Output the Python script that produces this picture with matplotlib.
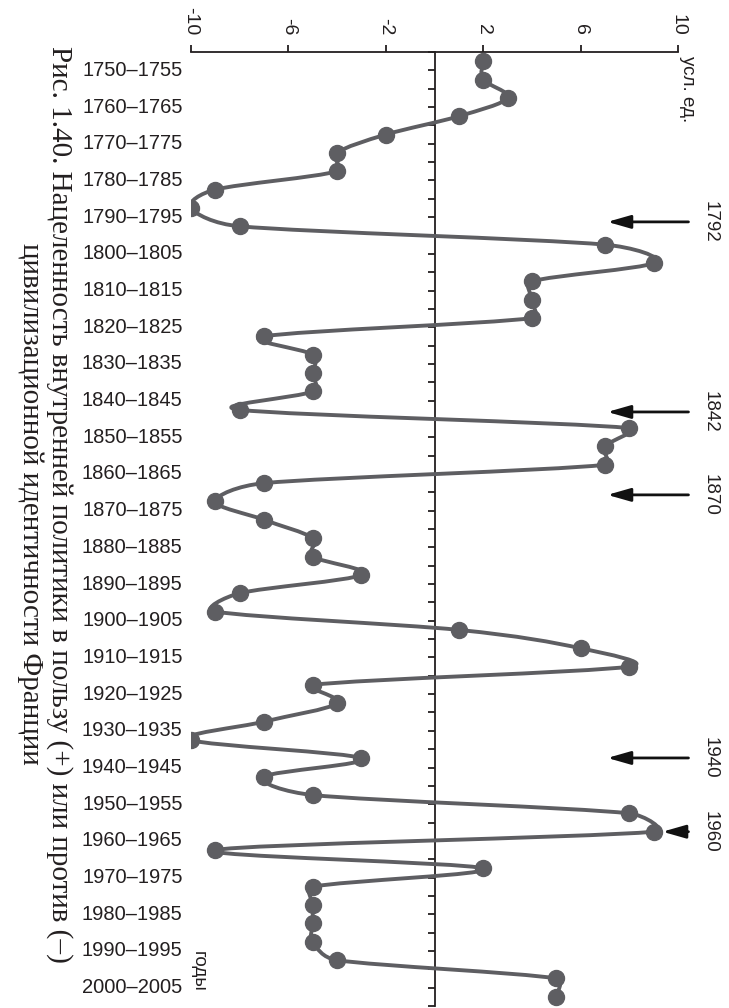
import numpy as np
import matplotlib
matplotlib.use('Agg')
import matplotlib.pyplot as plt
from matplotlib.path import Path
from matplotlib.patches import PathPatch
import matplotlib.transforms as mtransforms

# Data: score per 5-year step, 1750..2005
years = list(range(1750, 2006, 5))
scores = [2, 2, 3, 1, -2, -4, -4, -9, -10, -8,
          7, 9, 4, 4, 4, -7, -5, -5, -5, -8,
          8, 7, 7, -7, -9, -7, -5, -5, -3, -8,
          -9, 1, 6, 8, -5, -4, -7, -10, -3, -7,
          -5, 8, 9, -9, 2, -5, -5, -5, -5, -4,
          5, 5]
period_labels = [f"{y}\u2013{y + 5}" for y in range(1750, 2001, 10)]
value_ticks = [-10, -6, -2, 2, 6, 10]

# arrows marking turning points
mark_labels = ['1792', '1842', '1870', '1940', '1960']
mark_years = [1793.8, 1845.6, 1868.2, 1939.9, 1960.0]
mark_heads = [7.1, 7.1, 7.1, 7.1, 9.36]

line_col = '#5e5e62'
txt_col = '#231f20'
plt.rcParams['font.family'] = ['Liberation Sans', 'DejaVu Sans']

fig = plt.figure(figsize=(7.29, 10.08), dpi=100)
ax = fig.add_axes([191/729, 1 - 1006/1008, 487/729, (1006 - 52)/1008])
ax.set_xlim(-10, 10)
ax.set_ylim(2007.5, 1747.5)


def smooth_path(xs, ys):
    # excel-like smoothing: bezier with 1/6 tangents, clamped to half segment
    d = ax.transData.transform(np.column_stack([xs, ys]))
    P = np.vstack([d[0], d, d[-1]])
    verts = [d[0]]
    codes = [Path.MOVETO]
    for i in range(len(d) - 1):
        p0, p1, p2, p3 = P[i], P[i + 1], P[i + 2], P[i + 3]
        seg = np.hypot(*(p2 - p1))
        t1 = (p2 - p0) / 6
        t2 = (p3 - p1) / 6
        n1, n2 = np.hypot(*t1), np.hypot(*t2)
        if n1 > seg / 2:
            t1 = t1 * (seg / 2) / n1
        if n2 > seg / 2:
            t2 = t2 * (seg / 2) / n2
        verts += [p1 + t1, p2 - t2, p2]
        codes += [Path.CURVE4] * 3
    verts = ax.transData.inverted().transform(np.array(verts))
    return Path(verts, codes)


ax.add_patch(PathPatch(smooth_path(scores, years), fill=False, ec=line_col, lw=2.8,
                       capstyle='round', joinstyle='round', zorder=3))
ax.plot(scores, years, 'o', color=line_col, ms=11.5, zorder=4)

# axes styling
for s in ['bottom', 'right']:
    ax.spines[s].set_visible(False)
ax.spines['left'].set_position(('data', 0))
for s in ['top', 'left']:
    ax.spines[s].set_color(txt_col)
    ax.spines[s].set_linewidth(1.3)
ax.xaxis.tick_top()
ax.set_xticks(value_ticks)
ax.set_xticklabels([str(v) for v in value_ticks])
ax.tick_params(axis='x', direction='out', length=5, width=1.3, color=txt_col,
               labelrotation=-90, labelsize=14, labelcolor=txt_col, pad=7)
ax.set_yticks(np.arange(1747.5, 2008, 5))
ax.set_yticklabels([])
ax.tick_params(axis='y', direction='out', length=5, width=1.3, color=txt_col)

tr = mtransforms.blended_transform_factory(ax.transAxes, ax.transData)
for i, lab in enumerate(period_labels):
    ax.text(-0.017, 1752.5 + 10 * i, lab, transform=tr, ha='right', va='center',
            fontsize=14.5, color=txt_col)

ax.text(1.003, 1748.5, 'усл. ед.', transform=tr, rotation=-90, ha='left', va='top',
        fontsize=13.5, color=txt_col)
ax.text(-0.002, 2003.5, 'годы', transform=tr, rotation=-90, ha='left', va='bottom',
        fontsize=13.5, color=txt_col)

for lab, yy, hx in zip(mark_labels, mark_years, mark_heads):
    ax.annotate('', xy=(hx, yy), xytext=(10.43, yy),
                arrowprops=dict(arrowstyle='-|>,head_length=0.7,head_width=0.2',
                                color='#111111', lw=2, mutation_scale=20,
                                shrinkA=0, shrinkB=0),
                annotation_clip=False)
    ax.text(11.3, yy, lab, rotation=-90, ha='center', va='center',
            fontsize=13.5, color=txt_col, clip_on=False)

fig.text(45/729, 0.5,
         'Рис. 1.40. Нацеленность внутренней политики в пользу (+) или против (\u2013)\n'
         'цивилизационной идентичности Франции',
         rotation=-90, ha='center', va='center', multialignment='center',
         family=['Liberation Serif', 'DejaVu Serif'], fontsize=21, color=txt_col,
         linespacing=1.15)

plt.savefig('out.png', dpi=100)
